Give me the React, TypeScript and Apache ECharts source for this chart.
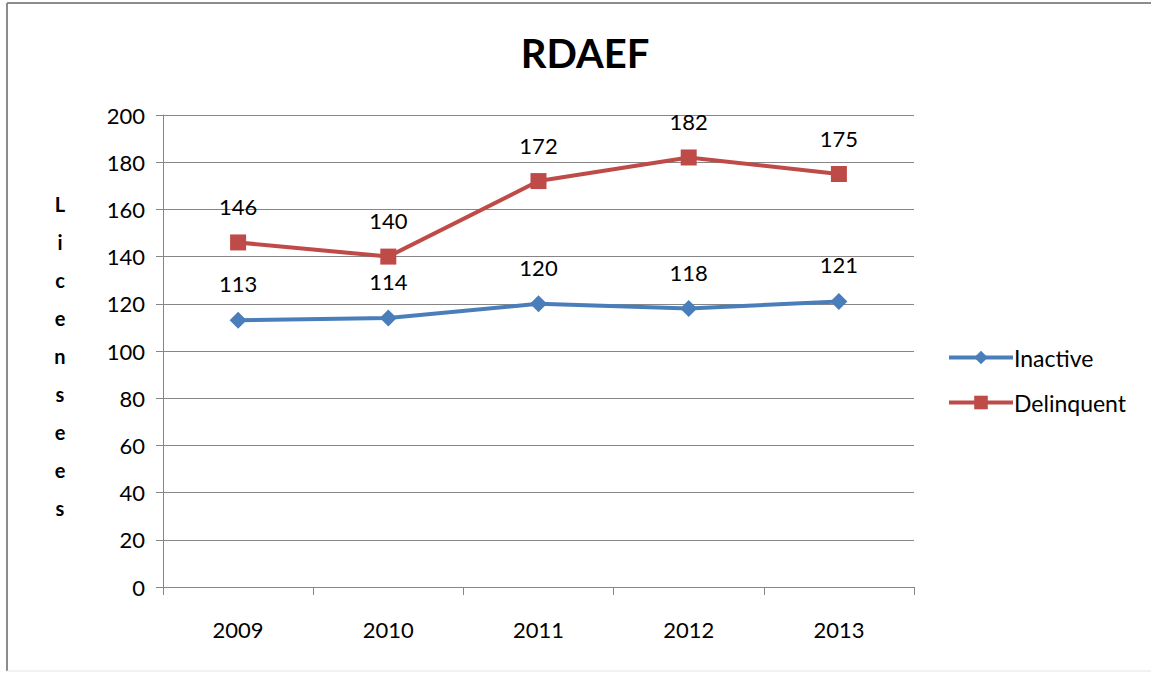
import React, { useEffect, useRef } from "react";
import * as echarts from "echarts";

const years = ["2009", "2010", "2011", "2012", "2013"];
const inactive = [113, 114, 120, 118, 121];
const delinquent = [146, 140, 172, 182, 175];
const yTitle = "Licensees";

export default function App() {
  const ref = useRef<HTMLDivElement>(null);
  useEffect(() => {
    document.body.style.margin = "0";
    const chart = echarts.init(ref.current!, null, { renderer: "svg" });
    const font = "Lato, 'Open Sans', sans-serif";
    const gray = "#868686";
    chart.setOption({
      animation: false,
      backgroundColor: "#fff",
      textStyle: { fontFamily: font },
      title: {
        text: "RDAEF",
        left: 580,
        textAlign: "center",
        top: 28,
        textStyle: { fontFamily: font, fontSize: 40, fontWeight: "bold", color: "#000" },
      },
      graphic: [
        {
          type: "line",
          shape: { x1: 7, y1: 3, x2: 1160, y2: 3 },
          style: { stroke: "#8c8c8c", lineWidth: 2 },
          silent: true,
        },
        {
          type: "line",
          shape: { x1: 7, y1: 3, x2: 7, y2: 671 },
          style: { stroke: "#8c8c8c", lineWidth: 2 },
          silent: true,
        },
        {
          type: "line",
          shape: { x1: 7, y1: 671, x2: 1160, y2: 671 },
          style: { stroke: "#e4e4e4", lineWidth: 1 },
          silent: true,
        },
        {
          type: "text",
          x: 60,
          y: 356,
          style: {
            text: yTitle.split("").join("\n"),
            fontFamily: font,
            fontSize: 20,
            fontWeight: "bold",
            lineHeight: 38,
            fill: "#000",
            align: "center",
            verticalAlign: "middle",
          },
        },
      ],
      legend: {
        orient: "vertical",
        left: 942,
        top: 341,
        itemGap: 22,
        itemWidth: 64,
        itemHeight: 17,
        textStyle: { fontFamily: font, fontSize: 23, color: "#000", padding: [0, 0, 0, -4] },
        lineStyle: { width: 4 },
        data: ["Inactive", "Delinquent"],
      },
      grid: { left: 163, right: 237, top: 115, bottom: 86 },
      xAxis: {
        type: "category",
        data: years,
        boundaryGap: true,
        axisLine: { lineStyle: { color: gray, width: 1 } },
        axisTick: { show: true, length: 8, lineStyle: { color: gray } },
        axisLabel: { fontFamily: font, fontSize: 22, color: "#000", margin: 31 },
      },
      yAxis: {
        type: "value",
        min: 0,
        max: 200,
        interval: 20,
        axisLine: { show: true, lineStyle: { color: gray, width: 1 } },
        axisTick: { show: true, length: 7, lineStyle: { color: gray } },
        axisLabel: { fontFamily: font, fontSize: 22, color: "#000", margin: 18 },
        splitLine: { lineStyle: { color: gray, width: 1 } },
      },
      series: [
        {
          name: "Inactive",
          type: "line",
          data: inactive,
          symbol: "diamond",
          symbolSize: 17,
          color: "#4A7EBB",
          lineStyle: { width: 4, color: "#4A7EBB" },
          itemStyle: { color: "#4A7EBB" },
          label: {
            show: true,
            position: "top",
            distance: 17,
            fontFamily: font,
            fontSize: 22,
            color: "#000",
          },
        },
        {
          name: "Delinquent",
          type: "line",
          data: delinquent,
          symbol: "rect",
          symbolSize: 16,
          color: "#BE4B48",
          lineStyle: { width: 4, color: "#BE4B48" },
          itemStyle: { color: "#BE4B48" },
          label: {
            show: true,
            position: "top",
            distance: 17,
            fontFamily: font,
            fontSize: 22,
            color: "#000",
          },
        },
      ],
    });
    return () => chart.dispose();
  }, []);
  return <div ref={ref} style={{ width: 1151, height: 673 }} />;
}
